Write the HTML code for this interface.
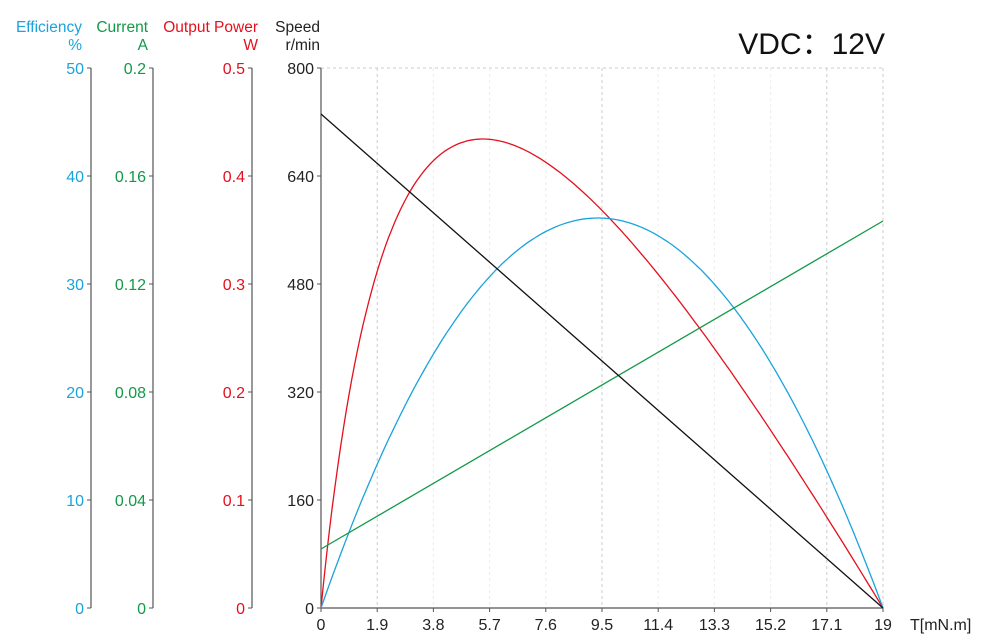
<!DOCTYPE html>
<html><head><meta charset="utf-8"><style>
html,body{margin:0;padding:0;background:#fff;}
svg{display:block;font-family:"Liberation Sans",sans-serif;}
</style></head><body>
<svg id="s" width="1000" height="637" viewBox="0 0 1000 637" xmlns="http://www.w3.org/2000/svg">
<g font-size="15.5">
<text x="82" y="32" fill="#1aa3dd" text-anchor="end">Efficiency</text>
<text x="82" y="50" fill="#1aa3dd" text-anchor="end">%</text>
<text x="148" y="32" fill="#119a48" text-anchor="end">Current</text>
<text x="148" y="50" fill="#119a48" text-anchor="end">A</text>
<text x="258" y="32" fill="#e5101e" text-anchor="end">Output Power</text>
<text x="258" y="50" fill="#e5101e" text-anchor="end">W</text>
<text x="320" y="32" fill="#222" text-anchor="end">Speed</text>
<text x="320" y="50" fill="#222" text-anchor="end">r/min</text>
</g>
<text x="885" y="54" font-size="30" fill="#111" text-anchor="end">VDC：12V</text>
<g id="g"></g>
</svg>
<script>
var g=document.getElementById('g'),h='';
var y0=608,y1=68,x0=321,x1=883;
h+='<line x1="321" y1="68" x2="883" y2="68" stroke="#ccc" stroke-dasharray="3,3"/>';
for(var k=1;k<=10;k++){var x=x0+k*(x1-x0)/10;var dk=(k==1||k==5||k==9||k==10);h+='<line x1="'+x+'" y1="68" x2="'+x+'" y2="608" stroke="'+(dk?'#ccc':'#ececec')+'" stroke-dasharray="3,3"/>';}
var axes=[[91,'#1aa3dd',['0','10','20','30','40','50']],[153,'#119a48',['0','0.04','0.08','0.12','0.16','0.2']],[252,'#e5101e',['0','0.1','0.2','0.3','0.4','0.5']],[321,'#222',['0','160','320','480','640','800']]];
axes.forEach(function(a){
 h+='<line x1="'+a[0]+'" y1="68" x2="'+a[0]+'" y2="608" stroke="#555" stroke-width="1.2"/>';
 for(var k=0;k<6;k++){var y=y0-k*108;
  h+='<line x1="'+(a[0]-4)+'" y1="'+y+'" x2="'+a[0]+'" y2="'+y+'" stroke="#555"/>';
  h+='<text x="'+(a[0]-7)+'" y="'+(y+6)+'" font-size="16" fill="'+a[1]+'" text-anchor="end">'+a[2][k]+'</text>';}
});
h+='<line x1="321" y1="608" x2="883" y2="608" stroke="#555" stroke-width="1.2"/>';
var xl=['0','1.9','3.8','5.7','7.6','9.5','11.4','13.3','15.2','17.1','19'];
for(var i=0;i<=10;i++){var x=x0+i*(x1-x0)/10;
 h+='<line x1="'+x+'" y1="608" x2="'+x+'" y2="612" stroke="#555"/>';
 h+='<text x="'+x+'" y="630" font-size="16" fill="#222" text-anchor="middle">'+xl[i]+'</text>';}
h+='<text x="910" y="630" font-size="16" fill="#222">T[mN.m]</text>';
function path(f,col){var d='';for(var i=0;i<=200;i++){var t=i/200;d+=(i?'L':'M')+(x0+t*(x1-x0)).toFixed(1)+','+f(t).toFixed(1);}return '<path d="'+d+'" fill="none" stroke="'+col+'" stroke-width="1.3"/>';}
var c=0.1957,fm=0.288*0.712/(0.288+c);
h+=path(function(t){return 608-469*(t*(1-t)/(t+c))/fm;},'#e5101e');
var c2=17,gm=0.493*0.507/(0.493+c2);
h+=path(function(t){return 608-390*(t*(1-t)/(t+c2))/gm;},'#1aa3dd');
h+='<line x1="321" y1="549" x2="883" y2="221" stroke="#119a48" stroke-width="1.3"/>';
h+='<line x1="321" y1="114" x2="883" y2="608" stroke="#111" stroke-width="1.3"/>';
g.innerHTML=h;
</script>
</body></html>
